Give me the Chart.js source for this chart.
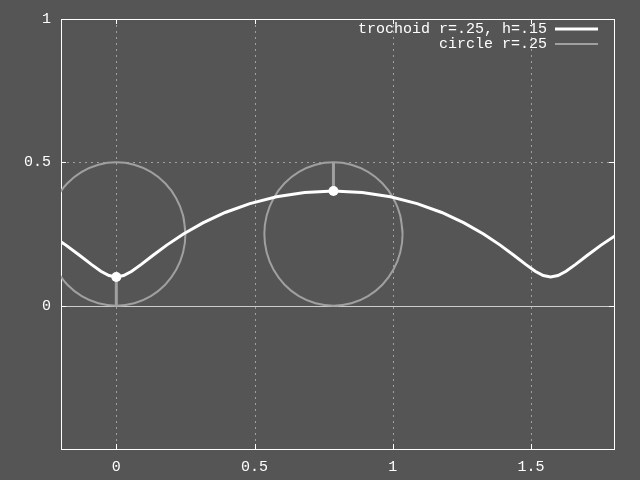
<!DOCTYPE html>
<html>
<head>
<meta charset="utf-8">
<script src="https://cdn.jsdelivr.net/npm/chart.js@4"></script>
<style>
  html, body { margin: 0; padding: 0; background: #555555; }
  canvas { display: block; }
</style>
</head>
<body>
<canvas id="myChart" width="640" height="480"></canvas>
<script>
// trochoid r=.25, h=.15
const trochoidX = [-0.2427, -0.1824, -0.1319, -0.0903, -0.0559, -0.0266, 0, 0.0266, 0.0559, 0.0903, 0.1319, 0.1824,
    0.2427, 0.3133, 0.3937, 0.4830, 0.5795, 0.6811, 0.7854, 0.8897, 0.9913, 1.0878, 1.1771, 1.2575,
    1.3281, 1.3884, 1.4389, 1.4805, 1.5149, 1.5442, 1.5708, 1.5974, 1.6267, 1.6611, 1.7027, 1.7532, 1.8135];
const trochoidY = [0.25, 0.2112, 0.175, 0.1439, 0.1201, 0.1051, 0.1, 0.1051, 0.1201, 0.1439, 0.175, 0.2112,
    0.25, 0.2888, 0.325, 0.3561, 0.3799, 0.3949, 0.4, 0.3949, 0.3799, 0.3561, 0.325, 0.2888,
    0.25, 0.2112, 0.175, 0.1439, 0.1201, 0.1051, 0.1, 0.1051, 0.1201, 0.1439, 0.175, 0.2112, 0.25];

// circles r=.25
const circleY = [0.25, 0.3147, 0.375, 0.4268, 0.4665, 0.4915, 0.5, 0.4915, 0.4665, 0.4268, 0.375, 0.3147,
    0.25, 0.1853, 0.125, 0.0732, 0.0335, 0.0085, 0, 0.0085, 0.0335, 0.0732, 0.125, 0.1853, 0.25, 0.3147];
const circle1X = [0.25, 0.2415, 0.2165, 0.1768, 0.125, 0.0647, 0, -0.0647, -0.125, -0.1768, -0.2165, -0.2415,
    -0.25, -0.2415, -0.2165, -0.1768, -0.125, -0.0647, 0, 0.0647, 0.125, 0.1768, 0.2165, 0.2415, 0.25, 0.2415];
const circle2X = [1.0354, 1.0269, 1.0019, 0.9622, 0.9104, 0.8501, 0.7854, 0.7207, 0.6604, 0.6086, 0.5689, 0.5439,
    0.5354, 0.5439, 0.5689, 0.6086, 0.6604, 0.7207, 0.7854, 0.8501, 0.9104, 0.9622, 1.0019, 1.0269, 1.0354, 1.0269];

// marked points and their spokes
const markX = [0, 0.7854];
const markY = [0.1, 0.4];
const spoke1 = [[0, 0], [0, 0.1]];
const spoke2 = [[0.7854, 0.4], [0.7854, 0.5]];

const xTicks = [0, 0.5, 1, 1.5];
const yTicks = [0, 0.5, 1];
const seriesNames = ['trochoid r=.25, h=.15', 'circle r=.25'];

const FONT = "'Liberation Mono', 'DejaVu Sans Mono', monospace";
const WHITE = '#ffffff';
const GRAY = '#a0a0a0';

function pts(xs, ys) {
    return xs.map((x, i) => ({ x: x, y: ys[i] }));
}

// gnuplot-ish frame: dotted grid, zero axis, border, inward ticks
const framePlugin = {
    id: 'frame',
    beforeDatasetsDraw(chart) {
        const ctx = chart.ctx;
        const a = chart.chartArea;
        const xs = chart.scales.x, ys = chart.scales.y;
        ctx.save();
        ctx.lineWidth = 1;
        ctx.strokeStyle = GRAY;
        ctx.setLineDash([2, 4]);
        xTicks.forEach(v => {
            const px = Math.round(xs.getPixelForValue(v)) + 0.5;
            ctx.beginPath(); ctx.moveTo(px, a.top); ctx.lineTo(px, a.bottom); ctx.stroke();
        });
        yTicks.forEach(v => {
            if (v === 0 || v === 1) return;
            const py = Math.round(ys.getPixelForValue(v)) + 0.5;
            ctx.beginPath(); ctx.moveTo(a.left, py); ctx.lineTo(a.right, py); ctx.stroke();
        });
        ctx.setLineDash([]);
        // zero axis
        ctx.strokeStyle = '#cccccc';
        const zy = Math.round(ys.getPixelForValue(0)) + 0.5;
        ctx.beginPath(); ctx.moveTo(a.left, zy); ctx.lineTo(a.right, zy); ctx.stroke();
        // border + ticks
        ctx.strokeStyle = WHITE;
        ctx.strokeRect(Math.round(a.left) + 0.5, Math.round(a.top) + 0.5,
            Math.round(a.right - a.left), Math.round(a.bottom - a.top));
        const tl = 5;
        xTicks.forEach(v => {
            const px = Math.round(xs.getPixelForValue(v)) + 0.5;
            ctx.beginPath();
            ctx.moveTo(px, a.bottom); ctx.lineTo(px, a.bottom - tl);
            ctx.moveTo(px, a.top); ctx.lineTo(px, a.top + tl);
            ctx.stroke();
        });
        yTicks.forEach(v => {
            const py = Math.round(ys.getPixelForValue(v)) + 0.5;
            ctx.beginPath();
            ctx.moveTo(a.left, py); ctx.lineTo(a.left + tl, py);
            ctx.moveTo(a.right, py); ctx.lineTo(a.right - tl, py);
            ctx.stroke();
        });
        ctx.restore();
    },
    afterDraw(chart) {
        // legend: text right-aligned, line sample to the right
        const ctx = chart.ctx;
        const colors = [WHITE, GRAY];
        const widths = [3, 2];
        ctx.save();
        ctx.font = '15px ' + FONT;
        ctx.textAlign = 'right';
        ctx.textBaseline = 'middle';
        seriesNames.forEach((name, i) => {
            const y = 29 + i * 15;
            ctx.fillStyle = WHITE;
            ctx.fillText(name, 547, y);
            ctx.strokeStyle = colors[i];
            ctx.lineWidth = widths[i];
            ctx.beginPath(); ctx.moveTo(555, y); ctx.lineTo(598, y); ctx.stroke();
        });
        ctx.restore();
    }
};

const lineDefaults = { showLine: true, pointRadius: 0, tension: 0, clip: 0, fill: false };

new Chart('myChart', {
    type: 'scatter',
    data: {
        datasets: [
            { label: 'marks', data: pts(markX, markY), showLine: false, pointRadius: 5,
                pointBackgroundColor: WHITE, pointBorderWidth: 0, order: 0, clip: 0 },
            Object.assign({}, lineDefaults, { label: seriesNames[0], data: pts(trochoidX, trochoidY),
                borderColor: WHITE, borderWidth: 3, order: 1 }),
            Object.assign({}, lineDefaults, { label: 'spoke1', data: spoke1.map(p => ({ x: p[0], y: p[1] })),
                borderColor: GRAY, borderWidth: 3, order: 2 }),
            Object.assign({}, lineDefaults, { label: 'spoke2', data: spoke2.map(p => ({ x: p[0], y: p[1] })),
                borderColor: GRAY, borderWidth: 3, order: 2 }),
            Object.assign({}, lineDefaults, { label: seriesNames[1], data: pts(circle1X, circleY),
                borderColor: GRAY, borderWidth: 2, tension: 0.33, order: 3 }),
            Object.assign({}, lineDefaults, { label: 'circle2', data: pts(circle2X, circleY),
                borderColor: GRAY, borderWidth: 2, tension: 0.33, order: 3 })
        ]
    },
    options: {
        responsive: false,
        devicePixelRatio: 1,
        animation: false,
        layout: { padding: { top: 17, right: 26, left: 0, bottom: 0 } },
        plugins: { legend: { display: false }, tooltip: { enabled: false } },
        scales: {
            x: {
                type: 'linear', min: -0.2, max: 1.8,
                grid: { display: false, drawTicks: false },
                border: { display: false },
                afterBuildTicks: s => { s.ticks = xTicks.map(v => ({ value: v })); },
                afterFit: s => { s.height = 31; },
                ticks: { color: WHITE, padding: 9, maxRotation: 0, font: { family: FONT, size: 15 },
                    callback: v => String(v) }
            },
            y: {
                type: 'linear', min: -0.5, max: 1,
                grid: { display: false, drawTicks: false },
                border: { display: false },
                afterBuildTicks: s => { s.ticks = yTicks.map(v => ({ value: v })); },
                afterFit: s => { s.width = 61; },
                ticks: { color: WHITE, padding: 10, font: { family: FONT, size: 15 },
                    callback: v => String(v) }
            }
        }
    },
    plugins: [framePlugin]
});
</script>
</body>
</html>
